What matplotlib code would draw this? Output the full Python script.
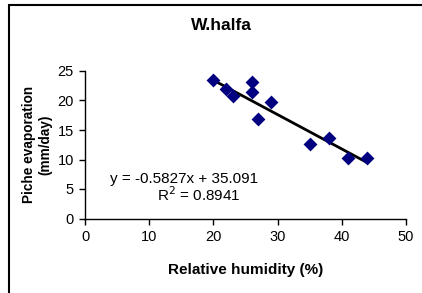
import matplotlib
matplotlib.use("Agg")
import matplotlib.pyplot as plt
from matplotlib.patches import Rectangle
import numpy as np

humidity = [20, 22, 23, 26, 26, 29, 27, 35, 38, 41, 44]
evaporation = [23.4, 22.0, 20.7, 23.1, 21.4, 19.8, 16.9, 12.6, 13.6, 10.2, 10.2]
slope = -0.5827
intercept = 35.091
r2 = 0.8941
x_ticks = [0, 10, 20, 30, 40, 50]
y_ticks = [0, 5, 10, 15, 20, 25]

plt.rcParams['font.family'] = ['Liberation Sans', 'DejaVu Sans']

W, H = 422, 293
fig = plt.figure(figsize=(W / 100, H / 100), dpi=100)

# outer chart border (extends past right/bottom edges)
fig.patches.append(Rectangle((8.5 / W, -0.05), 1.1, (H - 4.5) / H + 0.05,
                             transform=fig.transFigure, fill=False,
                             edgecolor='black', linewidth=1.5))

x0, x1 = 85, 406
y0, y25 = 218.5, 71
ax = fig.add_axes([x0 / W, (H - y0) / H, (x1 - x0) / W, (y0 - y25) / H])
ax.set_xlim(0, 50)
ax.set_ylim(0, 25)
ax.set_xticks(x_ticks)
ax.set_yticks(y_ticks)
for s in ['top', 'right']:
    ax.spines[s].set_visible(False)
for s in ['left', 'bottom']:
    ax.spines[s].set_linewidth(1.0)
ax.tick_params(direction='out', length=4, width=1, labelsize=10.5, pad=4)

ax.scatter(humidity, evaporation, marker='D', s=50, color='#000080', zorder=3, linewidths=0)
xs = np.array([min(humidity), max(humidity)])
ax.plot(xs, slope * xs + intercept, color='black', linewidth=2, zorder=2)

ax.text(3.9, 6.0, f"y = {slope}x + {intercept}", fontsize=11)
ax.text(11.2, 2.9, f"R$^2$ = {r2}", fontsize=11)

ax.set_xlabel("Relative humidity (%)", fontsize=11, fontweight='bold', labelpad=14)
ax.set_ylabel("Piche evaporation\n(mm/day)", fontsize=9.8, fontweight='bold', labelpad=4)
fig.text(221 / W, 1 - 25 / H, "W.halfa", ha='center', va='center', fontsize=12.5, fontweight='bold')

fig.savefig("out.png", dpi=100)
